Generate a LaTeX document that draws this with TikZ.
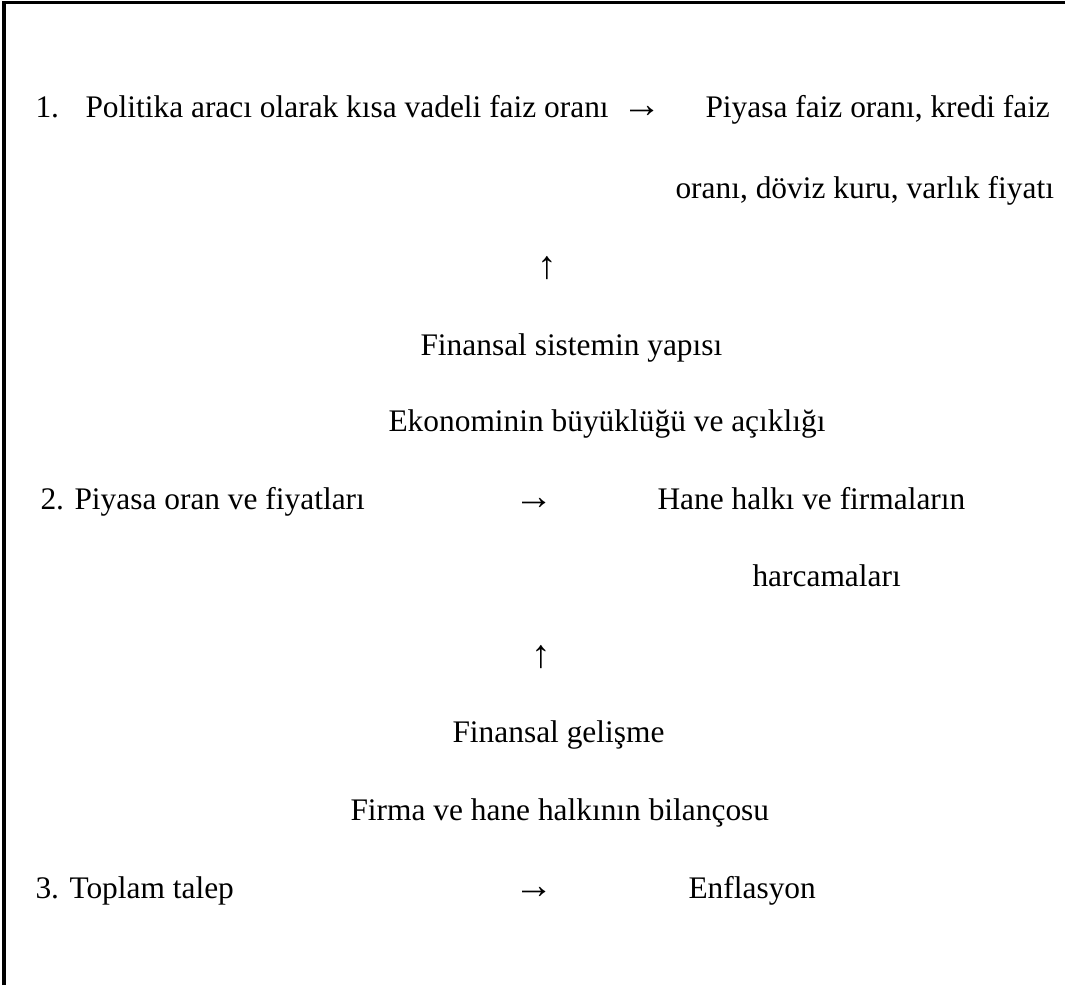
\documentclass[tikz,border=0pt]{standalone}
\usepackage{fontspec}
\setmainfont{Liberation Serif}[Ligatures=TeX]
\usetikzlibrary{positioning}

\begin{document}
\begin{tikzpicture}[x=0.3822pt, y=-0.3822pt,
    lbl/.style={anchor=base west, inner sep=0pt, font=\fontsize{12}{14}\selectfont},
    sym/.style={lbl, font=\fontsize{15}{17}\selectfont},
    frame/.style={line width=1.2pt}]

  \useasboundingbox (0,0) rectangle (1065,985);

  % Frame
  \draw[frame] (4,985) -- (4,2.5) -- (1065,2.5);

  % Step 1
  \node[lbl] (n1)  at (35,118)  {1.};
  \node[lbl] (pol) at (85,118)  {Politika aracı olarak kısa vadeli faiz oranı};
  \node[sym, base right=5pt of pol] (ar1) {→};
  \node[lbl] (piy) at (705,118) {Piyasa faiz oranı, kredi faiz};
  \node[lbl] (ora) at (675,199) {oranı, döviz kuru, varlık fiyatı};
  \node[sym, anchor=base] (up1) at (547,279) {↑};
  \node[lbl] (fin1) at (420,355) {Finansal sistemin yapısı};
  \node[lbl] (eko)  at (388,431) {Ekonominin büyüklüğü ve açıklığı};

  % Step 2
  \node[lbl] (n2)   at (40,509)  {2. Piyasa oran ve fiyatları};
  \node[sym] (ar2)  at (514,509) {→};
  \node[lbl] (hane) at (657,509) {Hane halkı ve firmaların};
  \node[lbl] (harc) at (752,586) {harcamaları};
  \node[sym, anchor=base] (up2)  at (541,667) {↑};
  \node[lbl] (fin2) at (452,742) {Finansal gelişme};
  \node[lbl] (firm) at (350,820) {Firma ve hane halkının bilançosu};

  % Step 3
  \node[lbl] (n3)  at (35,898)  {3. Toplam talep};
  \node[sym] (ar3) at (514,898) {→};
  \node[lbl] (enf) at (688,898) {Enflasyon};
\end{tikzpicture}
\end{document}
